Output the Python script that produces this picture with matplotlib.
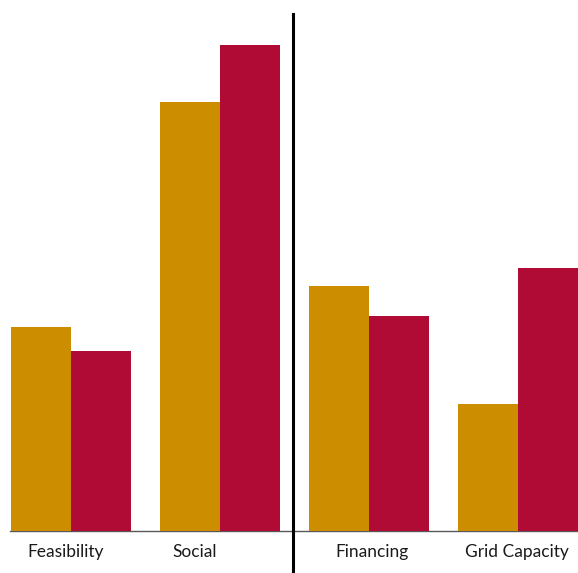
import matplotlib.pyplot as plt
import numpy as np

# Data (arbitrary units)
categories = ["Feasibility", "Social", "Financing", "Grid Capacity"]
series_a = [40.8, 85.8, 49.0, 25.4]   # gold
series_b = [36.0, 97.2, 43.0, 52.6]   # crimson

gold = "#CC8E00"
crimson = "#B00B35"

fig = plt.figure(figsize=(5.78, 5.73), dpi=100)
ax = fig.add_axes([0, 42 / 573, 1, 531 / 573])

x = np.arange(len(categories))
w = 0.405
ax.bar(x - w / 2, series_a, width=w, color=gold)
ax.bar(x + w / 2, series_b, width=w, color=crimson)

# baseline and divider
ax.plot([-0.41, 3.41], [0, 0], color="#595959", lw=1, zorder=0, clip_on=False)
ax.plot([1.49, 1.49], [-8.6, 103.4], color="black", lw=2.2, clip_on=False)

# category labels (slightly off-centre, as in the original)
label_shift = [-0.034, -0.171, 0.017, -0.007]
for xi, name, dx in zip(x, categories, label_shift):
    ax.text(xi + dx, -4.2, name, ha="center", va="center", fontsize=12.5,
            family="Lato", color="#1a1a1a", clip_on=False)

ax.set_xlim(-71 / 149, 507 / 149)
ax.set_ylim(0, 106.2)
ax.set_xticks([])
ax.set_yticks([])
for s in ax.spines.values():
    s.set_visible(False)

plt.savefig("out.png", dpi=100)
